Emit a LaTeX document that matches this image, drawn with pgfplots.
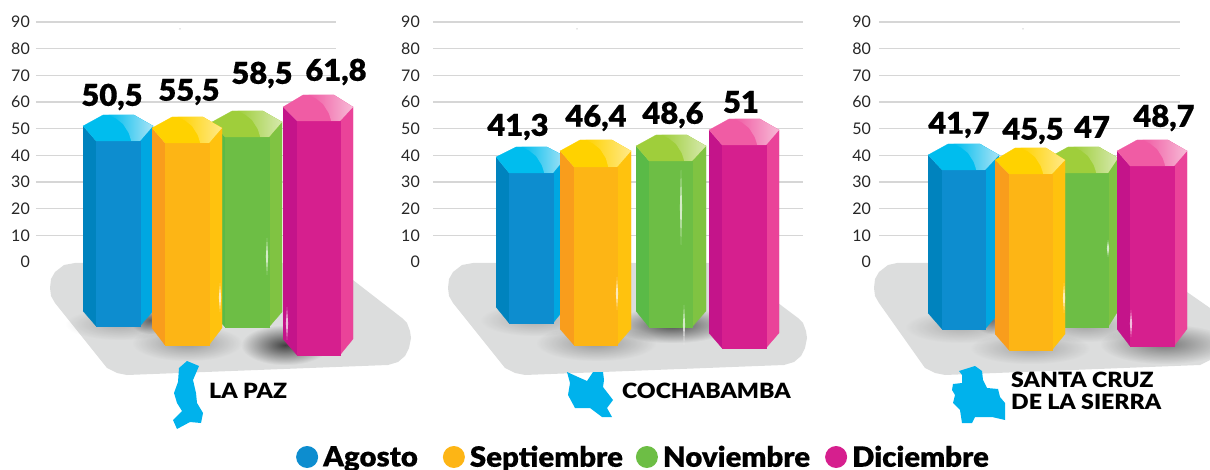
\documentclass[border=0pt]{standalone}
\usepackage{fontspec}
\setmainfont{Lato}
\newfontfamily\blk{Lato Black}
\newfontfamily\blkT[FakeStretch=1.1]{Lato Black}
\newfontfamily\blkV[FakeStretch=1.03,FakeBold=0.5]{Lato Black}
\newfontfamily\blkL[FakeStretch=1.05,FakeBold=0.3]{Lato Black}
\usepackage{pgfplots}
\pgfplotsset{compat=1.18}
\usetikzlibrary{fadings}
\tikzfading[name=sh, inner color=transparent!0, outer color=transparent!100]
\definecolor{plate}{HTML}{DCDDDD}
\definecolor{mapc}{HTML}{00B2EC}
\definecolor{gridc}{HTML}{D6D6D6}
\definecolor{blF}{HTML}{0D8DCF}\definecolor{blL}{HTML}{0083BE}\definecolor{blR}{HTML}{00A7E1}\definecolor{blT}{HTML}{00BDEE}\definecolor{blH}{HTML}{A8E3F6}
\definecolor{yeF}{HTML}{FDB515}\definecolor{yeL}{HTML}{F99D1C}\definecolor{yeR}{HTML}{FFC20E}\definecolor{yeT}{HTML}{FFD200}\definecolor{yeH}{HTML}{FFE98A}
\definecolor{grF}{HTML}{6DBE45}\definecolor{grL}{HTML}{5ABA47}\definecolor{grR}{HTML}{80C342}\definecolor{grT}{HTML}{9FCE3B}\definecolor{grH}{HTML}{D6E9AE}
\definecolor{piF}{HTML}{D61F8E}\definecolor{piL}{HTML}{C4148A}\definecolor{piR}{HTML}{EA4399}\definecolor{piT}{HTML}{F05CA4}\definecolor{piH}{HTML}{F7BAD6}
% geometry of one bar, in image pixels: L,l,r,R, top, shoulder, front top, lower shoulder, front bottom
\newcommand{\setgeo}[9]{%
  \pgfmathsetmacro\xA{#1}\pgfmathsetmacro\xB{#2}\pgfmathsetmacro\xC{#3}\pgfmathsetmacro\xD{#4}%
  \pgfmathsetmacro\xE{#1+20}\pgfmathsetmacro\xF{#4-19}%
  \pgfmathsetmacro\yT{(262-#5)/2.66667}\pgfmathsetmacro\yS{(262-#6)/2.66667}\pgfmathsetmacro\yF{(262-#7)/2.66667}%
  \pgfmathsetmacro\yP{(262-#8)/2.66667}\pgfmathsetmacro\yB{(262-#9)/2.66667}%
  \pgfmathsetmacro\hA{#1+25.7}\pgfmathsetmacro\hB{#1+33}\pgfmathsetmacro\hC{#1+40}\pgfmathsetmacro\hD{#1+45.7}\pgfmathsetmacro\hE{#1+48.3}%
  \pgfmathsetmacro\yHB{(262-#5-3.5)/2.66667}\pgfmathsetmacro\yHC{(262-#5-9)/2.66667}\pgfmathsetmacro\yHD{(262-#5-18)/2.66667}%
}
\newcommand{\prism}[1]{%
  \addplot[fill=#1L,draw=#1L,line width=.2pt,forget plot] coordinates {(\xA,\yS)(\xB,\yF)(\xB,\yB)(\xA,\yP)};
  \addplot[fill=#1R,draw=#1R,line width=.2pt,forget plot] coordinates {(\xC,\yF)(\xD,\yS)(\xD,\yP)(\xC,\yB)};
  \addplot[fill=#1F,draw=#1F,line width=.2pt,forget plot] coordinates {(\xB,\yF)(\xC,\yF)(\xC,\yB)(\xB,\yB)};
  \addplot[fill=#1T,draw=#1T,line width=.2pt,forget plot] coordinates {(\xA,\yS)(\xE,\yT)(\xF,\yT)(\xD,\yS)(\xC,\yF)(\xB,\yF)};
  \addplot[draw=none,left color=#1T,right color=#1H,forget plot] coordinates {(\hA,\yT)(\hB,\yHB)(\hC,\yHC)(\hD,\yHD)(\hE,\yF)(\xC,\yF)(\xD,\yS)(\xF,\yT)};
}
\newcommand{\glint}[3]{%
  \pgfmathsetmacro\gA{(262-#2)/2.66667}\pgfmathsetmacro\gB{(262-#3)/2.66667}\pgfmathsetmacro\gM{(\gA+\gB)/2}%
  \pgfmathsetmacro\gL{#1-1.1}\pgfmathsetmacro\gR{#1+1.1}%
  \addplot[fill=white,fill opacity=.7,draw=none,forget plot] coordinates {(#1,\gA)(\gR,\gM)(#1,\gB)(\gL,\gM)};
}
\newcommand{\shadow}[5]{%
  \pgfmathsetmacro\sL{#1-#3}\pgfmathsetmacro\sR{#1+#3}\pgfmathsetmacro\sT{#2-#4}\pgfmathsetmacro\sB{#2+#4}%
  \addplot[fill=black,fill opacity=#5,draw=none,path fading=sh,forget plot] coordinates {(\sL,\sT)(\sR,\sT)(\sR,\sB)(\sL,\sB)};
}
\pgfplotsset{panel/.style={
  scale only axis,height=240pt,ymin=0,ymax=90,clip=false,
  axis line style={draw=none},tick style={draw=none},
  xtick=\empty,ytick={10,20,...,90},extra y ticks={0},extra y tick style={grid=none},
  ymajorgrids,grid style={gridc,line width=1.1pt},
  /pgf/number format/assume math mode=true,
  tick label style={font=\fontsize{16}{16}\selectfont,inner sep=0pt,text=black!85},
}}
\newcommand{\val}[3]{\node[font=\blkV\fontsize{30}{30}\selectfont,inner sep=0pt,anchor=center] at (#1pt,\fpeval{470-#2}pt) {#3};}
\begin{document}
\begin{tikzpicture}
\useasboundingbox (0,0) rectangle (1210pt,470pt);
% backdrop: plates, shadows, maps, and the legend
\begin{axis}[at={(0,0)},anchor=south west,scale only axis,width=1210pt,height=470pt,
  xmin=0,xmax=1210,ymin=0,ymax=470,y dir=reverse,hide axis,clip=false,
  legend image code/.code={\path[#1] (0pt,0pt) circle (11pt);},
  legend columns=4,
  legend style={draw=none,fill=none,at={(644/1210,13/470)},anchor=center,inner sep=0pt,
    font=\blkL\fontsize{28}{28}\selectfont,
    nodes={inner sep=3pt},
    /tikz/every even column/.append style={column sep=10pt}}]
\addplot[fill=plate,draw=none,forget plot] coordinates {(75,263)(331,263)(402,318)(407,323)(410,331)(411,338)(409,348)(405,356)(398,362)(388,365)(127,375)(117,373)(107,368)(55,303)(51,296)(50,288)(51,279)(55,272)(64,265)};
\addplot[fill=plate,draw=none,forget plot] coordinates {(473,263)(725,263)(798,318)(803,323)(806,331)(807,338)(805,348)(801,356)(794,362)(784,365)(525,375)(515,373)(505,368)(453,303)(449,296)(448,288)(449,279)(453,272)(462,265)};
\addplot[fill=plate,draw=none,forget plot] coordinates {(897,263)(1145,263)(1187,292)(1210,308)(1210,360)(1200,365)(945,375)(935,373)(925,368)(879,303)(875,296)(874,288)(875,279)(879,272)(888,265)};
\shadow{120}{324}{55}{16}{.22}
\shadow{150}{320}{20}{14}{.5}
\shadow{187}{343}{55}{18}{.3}
\shadow{285}{345}{44}{20}{.7}
\shadow{535}{320}{55}{16}{.22}
\shadow{596}{343}{60}{18}{.3}
\shadow{672}{325}{60}{18}{.65}
\shadow{960}{327}{55}{16}{.2}
\shadow{992}{320}{18}{14}{.45}
\shadow{1030}{348}{60}{16}{.25}
\shadow{1085}{326}{55}{16}{.25}
\shadow{1165}{344}{65}{20}{.45}
\addplot[fill=mapc,draw=none,forget plot] coordinates {(187,361)(199,366)(193,380)(196,393)(197,403)(203,413)(201,423)(190,422)(177,429)(173,420)(182,411)(177,403)(174,393)(178,382)(179,368)};
\addplot[fill=mapc,draw=none,forget plot] coordinates {(567,372)(578,377)(587,381)(593,372)(603,372)(604,380)(603,387)(613,400)(607,408)(612,417)(602,417)(590,408)(575,408)(568,395)(570,383)};
\addplot[fill=mapc,draw=none,forget plot] coordinates {(959,371)(975,366)(982,371)(983,380)(987,388)(998,389)(1000,397)(1005,403)(1005,420)(992,417)(975,417)(972,423)(962,423)(960,410)(953,403)(955,395)(952,390)(953,384)(962,383)(962,375)};
\addlegendimage{fill=blF,draw=none}\addlegendentry{\hspace{2pt}Agosto\hspace{12pt}\null}
\addlegendimage{fill=yeF,draw=none}\addlegendentry{\hspace{2pt}Septiembre}
\addlegendimage{fill=grF,draw=none}\addlegendentry{\hspace{2pt}Noviembre\hspace{2pt}\null}
\addlegendimage{fill=piF,draw=none}\addlegendentry{\hspace{2pt}Diciembre}
\end{axis}
% La Paz
\begin{axis}[panel,at={(36pt,208pt)},anchor=south west,width=300pt,xmin=36,xmax=336,
  yticklabel style={xshift=-6pt}]
\addplot[only marks,mark=*,mark size=.5pt,gridc,forget plot] coordinates {(180,87.4)};
\setgeo{83}{96}{140}{153}{115}{126}{141}{311}{326}\prism{bl}
\setgeo{212}{225}{269}{282}{111}{122}{137}{312}{327}\prism{gr}
\setgeo{152}{165}{209}{222}{117}{128}{143}{328}{345}\prism{ye}
\setgeo{283}{297}{340}{353}{95}{107}{121}{339}{355}\prism{pi}
\glint{220}{283}{312}\glint{267}{238}{275}\glint{287}{307}{340}
\end{axis}
% Cochabamba
\begin{axis}[panel,at={(433pt,208pt)},anchor=south west,width=370pt,xmin=433,xmax=803,
  yticklabel style={xshift=-13pt}]
\addplot[only marks,mark=*,mark size=.5pt,gridc,forget plot] coordinates {(577,87.4)};
\setgeo{496}{509}{553}{566}{147}{157}{173}{307}{323}\prism{bl}
\setgeo{560}{574}{617}{631}{140}{151}{167}{329}{345}\prism{ye}
\setgeo{636}{649}{692}{706}{135}{146}{161}{311}{327}\prism{gr}
\setgeo{709}{722}{766}{779}{119}{130}{145}{333}{348}\prism{pi}
\glint{617}{277}{310}\glint{681}{170}{245}\glint{684}{305}{345}
\end{axis}
% Santa Cruz
\begin{axis}[panel,at={(879pt,208pt)},anchor=south west,width=301pt,xmin=879,xmax=1180,
  yticklabel style={xshift=-8pt}]
\addplot[only marks,mark=*,mark size=.5pt,gridc,forget plot] coordinates {(1023,87.4)};
\setgeo{928}{942}{985}{999}{144}{155}{170}{313}{329}\prism{bl}
\setgeo{1048}{1061}{1108}{1118}{147}{158}{173}{311}{327}\prism{gr}
\setgeo{995}{1009}{1052}{1065}{148}{160}{174}{334}{350}\prism{ye}
\setgeo{1117}{1130}{1174}{1187}{140}{151}{166}{329}{346}\prism{pi}
\glint{1064}{283}{313}\glint{1108}{240}{257}\glint{1131}{310}{337}
\end{axis}
\val{112}{97}{50,5}\val{189}{92}{55,5}\val{262}{75}{58,5}\val{336}{72}{61,8}
\val{518}{127}{41,3}\val{596}{118}{46,4}\val{673}{115}{48,6}\val{741}{102}{51}
\val{959}{125}{41,7}\val{1033}{131}{45,5}\val{1092}{127}{47}\val{1164}{118}{48,7}
\node[font=\blkT\fontsize{21}{21}\selectfont,anchor=west,inner sep=0pt] at (209pt,\fpeval{470-391}pt) {LA PAZ};
\node[font=\blkT\fontsize{21}{21}\selectfont,anchor=west,inner sep=0pt] at (622pt,\fpeval{470-391}pt) {COCHABAMBA};
\node[font=\blkT\fontsize{21}{21}\selectfont,anchor=west,inner sep=0pt] at (1011pt,\fpeval{470-380}pt) {SANTA CRUZ};
\node[font=\blkT\fontsize{21}{21}\selectfont,anchor=west,inner sep=0pt] at (1011pt,\fpeval{470-402}pt) {DE LA SIERRA};
\end{tikzpicture}
\end{document}
